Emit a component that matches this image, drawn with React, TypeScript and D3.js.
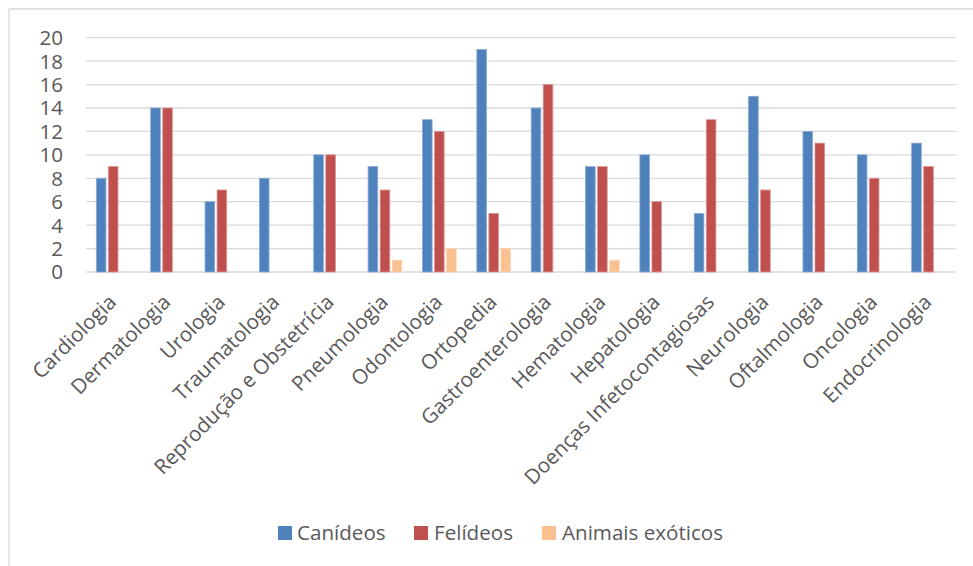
import React from "react";
import * as d3 from "d3";

const categories = [
  "Cardiologia",
  "Dermatologia",
  "Urologia",
  "Traumatologia",
  "Reprodução e Obstetrícia",
  "Pneumologia",
  "Odontologia",
  "Ortopedia",
  "Gastroenterologia",
  "Hematologia",
  "Hepatologia",
  "Doenças Infetocontagiosas",
  "Neurologia",
  "Oftalmologia",
  "Oncologia",
  "Endocrinologia",
];

const seriesNames = ["Canídeos", "Felídeos", "Animais exóticos"];

const canideos = [8, 14, 6, 8, 10, 9, 13, 19, 14, 9, 10, 5, 15, 12, 10, 11];
const felideos = [9, 14, 7, 0, 10, 7, 12, 5, 16, 9, 6, 13, 7, 11, 8, 9];
const exoticos = [0, 0, 0, 0, 0, 1, 2, 2, 0, 1, 0, 0, 0, 0, 0, 0];

const yTicks = [0, 2, 4, 6, 8, 10, 12, 14, 16, 18, 20];

const colors = ["#4F81BD", "#C0504D", "#FAC090"];
const strokes = ["#8BAAD6", "#D99694", "#FCD5B4"];

const W = 973;
const H = 566;
const FONT = "'Open Sans', sans-serif";
const FS = 20.6;

export default function App() {
  const series = [canideos, felideos, exoticos];

  const x = d3.scaleBand<string>().domain(categories).range([86, 955.7]).padding(0);
  const y = d3.scaleLinear().domain([0, 20]).range([272, 37.7]);
  const groupW = x.bandwidth() * 0.62;
  const xs = d3
    .scaleBand<string>()
    .domain(seriesNames)
    .range([0, groupW])
    .paddingInner(0.2)
    .paddingOuter(0);

  const legendItems = [
    { name: seriesNames[0], sx: 278, tx: 297 },
    { name: seriesNames[1], sx: 414, tx: 434 },
    { name: seriesNames[2], sx: 542, tx: 562 },
  ];

  return (
    <svg
      width={W}
      height={H}
      style={{ position: "absolute", left: 0, top: 0, background: "#fff" }}
      fontFamily={FONT}
    >
      {/* chart frame */}
      <line x1={9} y1={9} x2={W} y2={9} stroke="#d9d9d9" strokeWidth={1.3} />
      <line x1={9} y1={9} x2={9} y2={H} stroke="#d9d9d9" strokeWidth={1.3} />

      {/* gridlines and y labels */}
      {yTicks.map((t) => (
        <g key={t}>
          <line
            x1={86}
            x2={955.7}
            y1={y(t)}
            y2={y(t)}
            stroke="#d9d9d9"
            strokeWidth={1.3}
          />
          <text
            x={63}
            y={y(t)}
            dy="0.36em"
            textAnchor="end"
            fontSize={FS}
            fill="#595959"
          >
            {t}
          </text>
        </g>
      ))}

      {/* bars */}
      {categories.map((c, i) => {
        const cx = (x(c) as number) + x.bandwidth() / 2;
        const gx = cx - groupW / 2;
        return (
          <g key={c}>
            {series.map((s, j) =>
              s[i] > 0 ? (
                <rect
                  key={j}
                  x={gx + (xs(seriesNames[j]) as number)}
                  y={y(s[i])}
                  width={xs.bandwidth()}
                  height={y(0) - y(s[i])}
                  fill={colors[j]}
                  stroke={strokes[j]}
                  strokeWidth={0.8}
                />
              ) : null
            )}
          </g>
        );
      })}

      {/* category labels */}
      {categories.map((c) => {
        const cx = (x(c) as number) + x.bandwidth() / 2;
        return (
          <text
            key={c}
            transform={`translate(${cx},${299}) rotate(-45)`}
            textAnchor="end"
            dy="0.3em"
            fontSize={FS}
            fill="#595959"
          >
            {c}
          </text>
        );
      })}

      {/* legend */}
      {legendItems.map((l, j) => (
        <g key={l.name}>
          <rect x={l.sx} y={526} width={14} height={14} fill={colors[j]} />
          <text x={l.tx} y={533} dy="0.36em" fontSize={FS} fill="#595959">
            {l.name}
          </text>
        </g>
      ))}
    </svg>
  );
}
